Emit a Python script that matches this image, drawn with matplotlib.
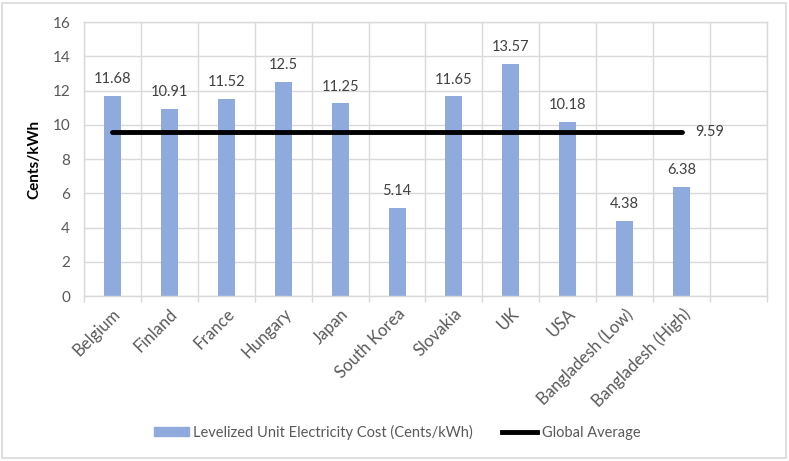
import matplotlib.pyplot as plt
import matplotlib.patches as mpatches
from matplotlib.lines import Line2D
import numpy as np

plt.rcParams["font.family"] = ["Lato", "DejaVu Sans"]

categories = ["Belgium", "Finland", "France", "Hungary", "Japan", "South Korea",
              "Slovakia", "UK", "USA", "Bangladesh (Low)", "Bangladesh (High)", ""]
cost = [11.68, 10.91, 11.52, 12.5, 11.25, 5.14, 11.65, 13.57, 10.18, 4.38, 6.38]
cost_labels = ["11.68", "10.91", "11.52", "12.5", "11.25", "5.14",
               "11.65", "13.57", "10.18", "4.38", "6.38"]
global_avg = [9.59] * 11
yticks = [0, 2, 4, 6, 8, 10, 12, 14, 16]

BAR = "#8FAADC"
TXT = "#595959"
GRID = "#D9D9D9"
FS = 10.5

W, H = 789, 461
fig = plt.figure(figsize=(W / 100, H / 100), dpi=100)
# outer chart border
fig.patches.append(mpatches.Rectangle((2 / W, 3 / H), 784 / W, 455 / H, transform=fig.transFigure,
                                      fill=False, edgecolor=GRID, lw=1.2))

ax = fig.add_axes([84 / W, (H - 296) / H, (767 - 84) / W, (296 - 22) / H])

x = np.arange(len(cost))
ax.bar(x, cost, width=0.3, color=BAR, zorder=2, label="Levelized Unit Electricity Cost (Cents/kWh)")
ax.plot(x, global_avg, color="black", lw=3.5, solid_capstyle="round", zorder=3, label="Global Average")

for xi, v, s in zip(x, cost, cost_labels):
    ax.annotate(s, (xi, v), xytext=(0, 12), textcoords="offset points",
                ha="center", va="center", fontsize=FS, color="#404040")
ax.annotate("9.59", (x[-1], global_avg[-1]), xytext=(10, 0), textcoords="offset points",
            ha="left", va="center", fontsize=FS, color="#404040")

ax.set_xlim(-0.5, len(categories) - 0.5)
ax.set_ylim(0, 16)
ax.set_yticks(yticks)
ax.set_xticks(np.arange(len(categories)))
ax.set_xticklabels(categories, rotation=45, ha="right", rotation_mode="anchor")
ax.set_xticks(np.arange(-0.5, len(categories)), minor=True)

ax.tick_params(axis="x", which="major", length=0, pad=7, labelsize=12, labelcolor=TXT)
ax.tick_params(axis="x", which="minor", length=4, color=GRID, width=1)
ax.tick_params(axis="y", length=0, pad=10, labelsize=FS + 0.5, labelcolor=TXT)

ax.grid(axis="y", color=GRID, lw=1, zorder=0)
ax.grid(axis="x", which="minor", color=GRID, lw=1, zorder=0)
ax.set_axisbelow(True)
for side in ["top", "right", "left", "bottom"]:
    ax.spines[side].set_color(GRID)
    ax.spines[side].set_linewidth(1)

ax.set_ylabel("Cents/kWh", fontsize=FS + 0.5, fontweight="bold", color="black", labelpad=8)

handles = [mpatches.Patch(color=BAR, label="Levelized Unit Electricity Cost (Cents/kWh)"),
           Line2D([0], [0], color="black", lw=3.5, label="Global Average")]
leg = fig.legend(handles=handles, loc="center", bbox_to_anchor=(397 / W, (H - 432) / H), ncol=2,
                 frameon=False, fontsize=FS, handlelength=2.4, handleheight=0.55,
                 handletextpad=0.3, columnspacing=2.0)
for t in leg.get_texts():
    t.set_color(TXT)

fig.savefig("out.png", dpi=100)
